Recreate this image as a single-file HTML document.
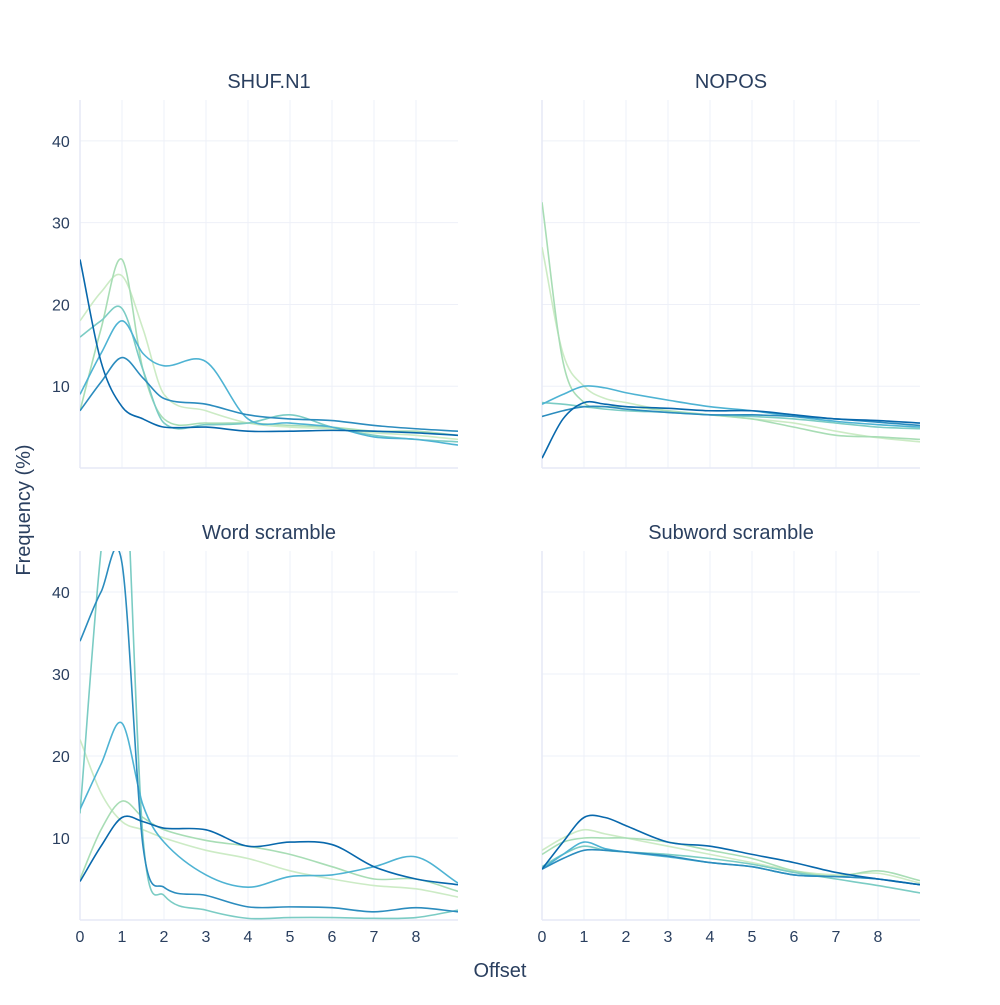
<!DOCTYPE html>
<html><head><meta charset="utf-8"><style>
body{margin:0;background:#fff}
svg text{font-family:"Liberation Sans",sans-serif;fill:#2a3f5f}
</style></head><body>
<svg id="chart" width="1000" height="1000" xmlns="http://www.w3.org/2000/svg"></svg>
<script>
const xs = [0,0.5,1,1.5,2,3,4,5,6,7,8,9];
const colors = ['#ccebc5','#a8ddb5','#7bccc4','#4eb3d3','#2b8cbe','#0868ac'];
const titles = ['SHUF.N1','NOPOS','Word scramble','Subword scramble'];
const yTicks = [10,20,30,40];
const xTicks = [0,1,2,3,4,5,6,7,8];
const shufN1 = [
 [18,21.5,23.5,17,9,7,5.5,5,4.8,4.3,4,3.5],
 [7,17,25.5,12,6,5.5,5.5,5.2,5,4.5,4.5,4],
 [16,18,19.5,12,5.5,5.3,5.5,6.5,5,4,3.5,3.2],
 [9,14,18,14,12.5,13,6,5.5,5,3.8,3.5,2.8],
 [7,10.5,13.5,11,8.5,7.8,6.5,6,5.8,5.2,4.8,4.5],
 [25.5,13,7.5,6,5,5,4.5,4.5,4.6,4.5,4.3,4]
];
const nopos = [
 [27,14,10,8.5,8,7,6.5,6,5.5,4.5,3.7,3.2],
 [32.5,13,8,7.5,7.5,7,6.5,6,5,4,3.8,3.5],
 [8,7.8,7.5,7.2,7,6.8,6.5,6.3,6,5.5,5,4.8],
 [7.8,9,10,9.8,9.2,8.3,7.5,7,6.3,5.7,5.3,5],
 [6.3,7,7.5,7.5,7.2,6.8,6.5,6.5,6.3,6,5.6,5.2],
 [1.2,6,8,7.8,7.5,7.3,7,7,6.5,6,5.8,5.5]
];
const wordScr = [
 [22,15.5,12,11,10,8.5,7.5,6,5,4.2,3.8,2.8],
 [5,11,14.5,12.5,11,9.7,9,8,6.5,5,5,3.5],
 [13,45,62,10,3,1.2,0.2,0.3,0.3,0.2,0.3,1.2],
 [13.5,19,24,14,9.5,5.5,4,5.3,5.5,6.5,7.7,4.5],
 [34,40,43.5,9,4,3,1.6,1.6,1.5,1,1.5,1],
 [4.7,9,12.5,12,11.2,11,9,9.5,9.2,6.5,5,4.3]
];
const subScr = [
 [8.5,10,11,10.5,10,9,8,7,6,5.5,5.7,4.5],
 [8,9.5,10,10,10,9.5,8.5,7.5,6,5.3,6,4.8],
 [6.5,8,9,8.5,8.3,8,7.5,6.8,5.8,5,4.2,3.3],
 [6.2,8,9.5,8.7,8.3,7.7,7,6.5,5.5,5.3,5,4.3],
 [6.2,7.5,8.5,8.5,8.3,7.8,7,6.5,5.5,5.3,5,4.3],
 [6.2,9.5,12.5,12.5,11.5,9.5,9,8,7,5.8,5,4.3]
];
const panelData = [shufN1,nopos,wordScr,subScr];
const NS='http://www.w3.org/2000/svg';
const svg=document.getElementById('chart');
function mk(tag,attrs,parent){const e=document.createElementNS(NS,tag);for(const k in attrs)e.setAttribute(k,attrs[k]);(parent||svg).appendChild(e);return e;}
const panels=[{x0:80,y0:100,y1:468},{x0:542,y0:100,y1:468},{x0:80,y0:551,y1:920},{x0:542,y0:551,y1:920}];
function spline(X,Y){
 const n=X.length,m=[];
 for(let i=0;i<n;i++){const a=Math.max(0,i-1),b=Math.min(n-1,i+1);m.push((Y[b]-Y[a])/(X[b]-X[a]));}
 let d='M'+X[0]+','+Y[0];
 for(let i=0;i<n-1;i++){const h=(X[i+1]-X[i])/3;
  d+=' C'+(X[i]+h)+','+(Y[i]+m[i]*h)+' '+(X[i+1]-h)+','+(Y[i+1]-m[i+1]*h)+' '+X[i+1]+','+Y[i+1];}
 return d;}
panels.forEach((p,pi)=>{
 const W=378,H=p.y1-p.y0;
 const sx=v=>p.x0+v*W/9, sy=v=>p.y1-v*H/45;
 const g=mk('g',{});
 
 
 xTicks.forEach(t=>{const l=mk('line',{x1:sx(t),x2:sx(t),y1:p.y0,y2:p.y1,stroke:'#eef0f8','stroke-width':1},g);});
 yTicks.forEach(t=>{const l=mk('line',{x1:p.x0,x2:p.x0+W,y1:sy(t),y2:sy(t),stroke:'#eef0f8','stroke-width':1},g);});
 const ax=mk('line',{x1:p.x0,x2:p.x0,y1:p.y0,y2:p.y1,stroke:'#e6e9f5','stroke-width':1.5},g);
 const bx=mk('line',{x1:p.x0,x2:p.x0+W,y1:p.y1,y2:p.y1,stroke:'#e6e9f5','stroke-width':1.5},g);
 if(pi%2==0)yTicks.forEach(t=>{const tx=mk('text',{x:p.x0-28,y:sy(t)+6,'font-size':16},g);tx.textContent=t;});
 if(pi>=2)xTicks.forEach(t=>{const tx=mk('text',{x:sx(t),y:p.y1+22,'font-size':16,'text-anchor':'middle'},g);tx.textContent=t;});
 const tt=mk('text',{x:p.x0+W/2,y:p.y0-12,'font-size':20,'text-anchor':'middle'},g);tt.textContent=titles[pi];
 const cp=mk('clipPath',{id:'clip'+pi},g);mk('rect',{x:p.x0,y:p.y0,width:W,height:H},cp);
 panelData[pi].forEach((s,si)=>{const path=mk('path',{d:spline(xs.map(sx),s.map(sy)),fill:'none',stroke:colors[si],'stroke-width':1.6,'clip-path':'url(#clip'+pi+')'},g);});
});
const yt=mk('text',{x:0,y:0,'font-size':20,'text-anchor':'middle',transform:'translate(30,510) rotate(-90)'});yt.textContent='Frequency (%)';
const xt=mk('text',{x:500,y:977,'font-size':20,'text-anchor':'middle'});xt.textContent='Offset';
</script>
</body></html>
